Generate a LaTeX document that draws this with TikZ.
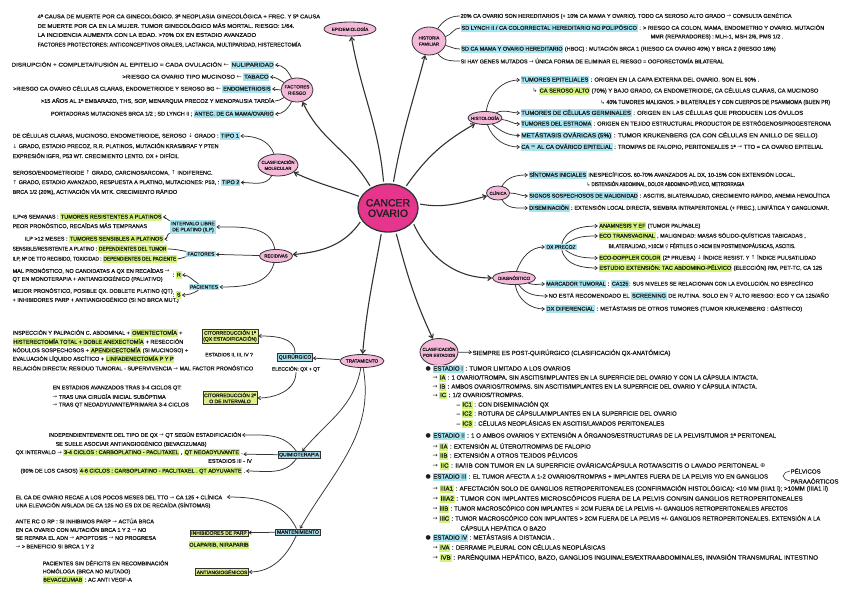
\documentclass[tikz,border=0pt]{standalone}
\usepackage{fontspec}
\usepackage{graphicx}
\setmainfont{Liberation Sans}[FakeBold=1]
\newfontfamily\sym{DejaVu Sans}
\usetikzlibrary{arrows.meta,shapes.geometric}
\definecolor{ink}{HTML}{1E1E1E}
\definecolor{lnk}{HTML}{333333}
\definecolor{pinkl}{HTML}{F4B8D8}
\definecolor{pinkc}{HTML}{E6358C}
\definecolor{hlb}{HTML}{A8E3F0}
\definecolor{hlg}{HTML}{D2F37C}
\definecolor{boxg}{HTML}{DCEF86}
\definecolor{boxb}{HTML}{A7DCEA}
\newcommand\fs{\fontsize{5.5}{6.5}\selectfont}
\newcommand\fsh{\fontsize{5.8}{6.8}\selectfont}
\newcommand\fse{\fontsize{6.1}{7}\selectfont}
\newcommand\HB[1]{{\fboxsep=0.7pt\colorbox{hlb}{\rule[-1.3pt]{0pt}{5.8pt}#1}}}
\newcommand\HG[1]{{\fboxsep=0.7pt\colorbox{hlg}{\rule[-1.3pt]{0pt}{5.8pt}#1}}}
\newcommand\sx[2]{\scalebox{#1}[1]{#2}}
\newcommand\myra{{\sym →}}
\newcommand\myla{{\sym ←}}
\newcommand\myhook{{\sym ↳}}
\newcommand\mybul{{\sym ●}}
\newcommand\myfem{{\sym ♀}}
\newcommand\myup{{\sym ↑}}
\newcommand\mydn{{\sym ↓}}
\newcommand\myplus{{\sym ⊕}}
\newcommand\myapx{{\sym ≈}}
\newcommand\myle{{\sym ≤}}
\newcommand\zb[1]{\makebox[0pt]{\shortstack{#1}}}
\begin{document}
\begin{tikzpicture}[x=1pt,y=-1pt,
 every node/.style={text=ink},
 tx/.style={anchor=west,inner sep=0.4pt,font=\fs},
 txr/.style={anchor=east,inner sep=0.4pt,font=\fs},
 txh/.style={anchor=west,inner sep=0.4pt,font=\fsh},
 txe/.style={anchor=west,inner sep=0.4pt,font=\fse},
 topic/.style={ellipse,draw=lnk,line width=0.8pt,fill=pinkl,inner sep=0pt,font=\fontsize{4.6}{5}\selectfont},
 bbox/.style={rectangle,draw=lnk,line width=0.6pt,fill=boxb,inner sep=1.3pt,font=\fontsize{5}{6}\selectfont},
 bfill/.style={rectangle,fill=hlb,inner sep=1.3pt,font=\fontsize{5}{6}\selectfont,align=center},
 gbox/.style={rectangle,draw=lnk,line width=0.6pt,fill=boxg,inner sep=1.3pt,font=\fontsize{5}{6}\selectfont,align=center},
 arr/.style={draw=lnk,line width=0.75pt,-{Straight Barb[length=2.4pt,width=3.4pt]}},
 plainln/.style={draw=lnk,line width=0.75pt},
 mainarr/.style={draw=lnk,line width=1.1pt,-{Straight Barb[length=3.5pt,width=5pt]},shorten <=2pt}]
\fill[white] (0,0) rectangle (848,599);
\useasboundingbox (0,0) rectangle (848,599);

% ---------- centre and topics
\node[ellipse,draw=lnk,line width=1.3pt,fill=pinkc,minimum width=60pt,minimum height=48pt,inner sep=0pt,font=\fontsize{10.5}{11.5}\selectfont] (C) at (388,208) {\zb{CANCER\\OVARIO}};
\node[topic,minimum width=52pt,minimum height=14pt] (epi) at (350,29) {\zb{EPIDEMIOLOGÍA}};
\node[topic,minimum width=34pt,minimum height=28pt,font=\fontsize{4.4}{5}\selectfont] (hf) at (429,41) {\zb{HISTORIA\\FAMILIAR}};
\node[topic,minimum width=32pt,minimum height=24pt] (fr) at (297,90) {\zb{FACTORES\\RIESGO}};
\node[topic,minimum width=34pt,minimum height=13pt] (hist) at (485,118) {\zb{HISTOLOGÍA}};
\node[topic,minimum width=40pt,minimum height=22pt,font=\fontsize{4.3}{5}\selectfont] (cm) at (278,165) {\zb{CLASIFICACIÓN\\MOLECULAR}};
\node[topic,minimum width=23pt,minimum height=14pt,font=\fontsize{4.3}{5}\selectfont] (cli) at (498,193) {\zb{CLÍNICA}};
\node[topic,minimum width=33pt,minimum height=13pt,font=\fontsize{4.4}{5}\selectfont] (rec) at (276,256) {\zb{RECIDIVAS}};
\node[topic,minimum width=43pt,minimum height=13pt] (dxg) at (514,278) {\zb{DIAGNÓSTICO}};
\node[topic,minimum width=44pt,minimum height=13pt] (trat) at (362,361) {\zb{TRATAMIENTO}};
\node[topic,minimum width=38pt,minimum height=27pt,font=\fontsize{4.3}{5}\selectfont] (ce) at (439,352) {\zb{CLASIFICACIÓN\\POR ESTADIOS}};

\draw[mainarr] (C.130) to[out=120,in=-65] (fr);
\draw[mainarr] (C.100) to[out=95,in=-80] (epi);
\draw[mainarr] (C.78) to[out=80,in=-105] (hf);
\draw[mainarr] (C.50) to[out=55,in=-150] (hist);
\draw[mainarr] (C.158) to[out=160,in=-25] (cm);
\draw[mainarr] (C.8) to[out=-10,in=195] (cli);
\draw[mainarr] (C.205) to[out=235,in=5] (rec);
\draw[mainarr] (C.-30) to[out=-65,in=180] (dxg);
\draw[mainarr] (C.-105) to[out=-100,in=85] (trat);
\draw[mainarr] (C.-72) to[out=-75,in=115] (ce);

% ---------- epidemiologia
\node[tx] (ep1) at (37,16) {\sx{1.06}{4ª CAUSA DE MUERTE POR CA GINECOLÓGICO. 3ª NEOPLASIA GINECOLÓGICA + FREC. Y 5ª CAUSA}};
\node[tx] (ep2) at (37,25.5) {\sx{1.08}{DE MUERTE POR CA EN LA MUJER. TUMOR GINECOLÓGICO MÁS MORTAL. RIESGO: 1/64.}};
\node[tx] (ep3) at (37,35) {\sx{1.1}{LA INCIDENCIA AUMENTA CON LA EDAD. >70\% DX EN ESTADIO AVANZADO}};
\node[tx] (ep4) at (37,44.5) {\sx{0.95}{FACTORES PROTECTORES: ANTICONCEPTIVOS ORALES, LACTANCIA, MULTIPARIDAD, HISTERECTOMÍA}};

% ---------- factores riesgo
\node[txr] (fr1) at (275,65) {\sx{1.15}{DISRUPCIÓN + COMPLETA/FUSIÓN AL EPITELIO = CADA OVULACIÓN \myla\ \HB{NULIPARIDAD}}};
\node[txr] (fr2) at (270,77) {\sx{1.1}{>RIESGO CA OVARIO TIPO MUCINOSO \myla\ \HB{TABACO}}};
\node[txr] (fr3) at (272,89) {\sx{1.03}{>RIESGO CA OVARIO CÉLULAS CLARAS, ENDOMETRIOIDE Y SEROSO BG \myla\ \HB{ENDOMETRIOSIS}}};
\node[txr] (fr4) at (275,101) {\sx{1.03}{>15 AÑOS AL 1ª EMBARAZO, THS, SOP, MENARQUIA PRECOZ Y MENOPAUSIA TARDÍA}};
\node[txr] (fr5) at (275,114) {PORTADORAS MUTACIONES BRCA 1/2 ; SD LYNCH II ; \HB{ANTEC. DE CA MAMA/OVARIO}};
\draw[arr] (fr) to[out=115,in=0] (fr1);
\draw[arr] (fr) to[out=150,in=0] (fr2);
\draw[arr] (fr) to[out=180,in=0] (fr3);
\draw[plainln] (fr) to[out=210,in=0] (fr4);
\draw[arr] (fr) to[out=245,in=0] (fr5);

% ---------- clasificacion molecular
\node[tx] (cm1) at (12,136) {\sx{1.04}{DE CÉLULAS CLARAS, MUCINOSO, ENDOMETRIOIDE, SEROSO \mydn\ GRADO : \HB{TIPO 1}}};
\node[tx] (cm2) at (12,146) {\mydn\ GRADO, ESTADIO PRECOZ, R.R. PLATINOS, MUTACIÓN KRAS/BRAF Y PTEN};
\node[tx] (cm3) at (12,156) {EXPRESIÓN IGFR, P53 WT. CRECIMIENTO LENTO. DX + DIFÍCIL};
\node[tx] (cm4) at (12,173) {SEROSO/ENDOMETRIOIDE \myup\ GRADO, CARCINOSARCOMA, \myup\ INDIFERENC.};
\node[tx] (cm5) at (12,182.5) {\myup\ GRADO, ESTADIO AVANZADO, RESPUESTA A PLATINO, MUTACIONES: P53, : \HB{TIPO 2}};
\node[tx] (cm6) at (12,192) {BRCA 1/2 (20\%), ACTIVACIÓN VÍA MTK. CRECIMIENTO RÁPIDO};
\draw[arr] (cm) to[out=110,in=0] (cm1);
\draw[arr] (cm) to[out=240,in=0] (cm5);

% ---------- recidivas
\node[bfill] (ilp) at (193,227) {INTERVALO LIBRE\\DE PLATINO (ILP)};
\node[bfill] (fac) at (201,254) {FACTORES};
\node[bfill] (pac) at (204,287) {PACIENTES};
\node[tx] (rc1) at (12,217) {ILP<6 SEMANAS : \HG{TUMORES RESISTENTES A PLATINOS}};
\node[tx] (rc2) at (12,226) {PEOR PRONÓSTICO, RECAÍDAS MÁS TEMPRANAS};
\node[tx] (rc3) at (24,239) {ILP >12 MESES : \HG{TUMORES SENSIBLES A PLATINOS}};
\node[tx] (rc4) at (12,249) {\sx{0.88}{SENSIBLE/RESISTENTE A PLATINO : \HG{DEPENDIENTES DEL TUMOR}}};
\node[tx] (rc5) at (12,259) {\sx{0.87}{ILP, Nº DE TTO RECIBIDO, TOXICIDAD : \HG{DEPENDIENTES DEL PACIENTE}}};
\node[tx] (rc6) at (12,271) {MAL PRONÓSTICO, NO CANDIDATAS A QX EN RECAÍDAS \myra};
\node[tx] (rc7) at (12,279) {QT EN MONOTERAPIA + ANTIANGIOGÉNICO (PALIATIVO)};
\node[tx] (rcR) at (172,275) {: \HG{R}};
\node[tx] (rc8) at (12,291) {MEJOR PRONÓSTICO, POSIBLE QX. DOBLETE PLATINO (QT)};
\node[tx] (rc9) at (12,300) {+ INHIBIDORES PARP + ANTIANGIOGÉNICO (SI NO BRCA MUT.)};
\node[tx] (rcS) at (172,295) {: \HG{S}};
\draw[arr] (rec) to[out=100,in=0] (ilp);
\draw[arr] (rec) -- (fac);
\draw[arr] (rec) to[out=255,in=0] (pac);
\draw[arr] (ilp) to[out=165,in=0] (rc1);
\draw[arr] (ilp) to[out=195,in=0] (rc3);
\draw[plainln] (fac) to[out=170,in=0] (rc4);
\draw[plainln] (fac) to[out=190,in=0] (rc5);
\draw[arr] (pac) to[out=150,in=0] (rcR);
\draw[arr] (pac) to[out=210,in=0] (rcS);

% ---------- tratamiento
\node[bbox] (quir) at (295,357) {QUIRÚRGICO};
\node[tx,anchor=center,font=\fontsize{5}{6}\selectfont] (elec) at (296,369) {ELECCIÓN: QX + QT};
\node[gbox] (c1) at (230,336) {CITORREDUCCIÓN 1ª\\(QX ESTADIFICACIÓN)};
\node[tx,anchor=center,font=\fontsize{5}{6}\selectfont] (c1e) at (229,355) {ESTADIOS II, III, IV ?};
\node[gbox] (c2) at (230,398) {CITORREDUCCIÓN 2ª\\O DE INTERVALO};
\node[tx] (tq1) at (12,333) {INSPECCIÓN Y PALPACIÓN C. ABDOMINAL + \HG{OMENTECTOMÍA} +};
\node[tx] (tq2) at (12,342) {\HG{HISTERECTOMÍA TOTAL + DOBLE ANEXECTOMÍA} + RESECCIÓN};
\node[tx] (tq3) at (12,350.5) {NÓDULOS SOSPECHOSOS + \HG{APENDICECTOMÍA} (SI MUCINOSO) +};
\node[tx] (tq4) at (12,359) {EVALUACIÓN LÍQUIDO ASCÍTICO + \HG{LINFADENECTOMÍA P Y P}};
\node[tx] (tq5) at (12,368) {RELACIÓN DIRECTA: RESIDUO TUMORAL - SUPERVIVENCIA \myra\ MAL FACTOR PRONÓSTICO};
\node[tx] (tq6) at (52,388) {EN ESTADIOS AVANZADOS TRAS 3-4 CICLOS QT:};
\node[tx] (tq7) at (52,396.5) {\myra\ TRAS UNA CIRUGÍA INICIAL SUBÓPTIMA};
\node[tx] (tq8) at (52,405) {\myra\ TRAS QT NEOADYUVANTE/PRIMARIA 3-4 CICLOS};
\draw[arr] (trat) -- (quir);
\draw[arr] (quir.north) to[out=90,in=0] (c1);
\draw[arr] (elec.south) to[out=-90,in=0] (c2);

\node[bbox] (qt) at (299,455) {QUIMIOTERAPIA};
\node[tx] (qt1) at (48,435) {INDEPENDIENTEMENTE DEL TIPO DE QX \myra\ QT SEGÚN ESTADIFICACIÓN};
\node[tx] (qt2) at (55,444) {SE SUELE ASOCIAR ANTIANGIOGÉNICO (BEVACIZUMAB)};
\node[tx] (qt3) at (15,452.5) {QX INTERVALO \myra\ \HG{3-4 CICLOS : CARBOPLATINO - PACLITAXEL} , \HG{QT NEOADYUVANTE} .};
\node[tx,anchor=center] (qt3b) at (230,461) {ESTADIOS III - IV};
\node[tx] (qt4) at (20,471) {(90\% DE LOS CASOS) \HG{4-6 CICLOS : CARBOPLATINO - PACLITAXEL . QT ADYUVANTE} .};
\draw[arr] (trat) to[out=-100,in=50] (qt);
\draw[arr] (qt) to[out=125,in=0] (qt1);
\draw[arr] (qt) -- (qt3);
\draw[arr] (qt) to[out=235,in=0] (qt4);

\node[bbox] (mt) at (298,532) {MANTENIMIENTO};
\node[tx] (mt1) at (15,497) {EL CA DE OVARIO RECAE A LOS POCOS MESES DEL TTO \myra\ CA 125 + CLÍNICA};
\node[tx] (mt2) at (15,505.5) {UNA ELEVACIÓN AISLADA DE CA 125 NO ES DX DE RECAÍDA (SÍNTOMAS)};
\node[tx] (mt3) at (15,521) {ANTE RC O RP : SI INHIBIMOS PARP \myra\ ACTÚA BRCA};
\node[tx] (mt4) at (15,529.5) {EN CA OVARIO CON MUTACIÓN BRCA 1 Y 2 \myra\ NO};
\node[tx] (mt5) at (15,538) {SE REPARA EL ADN \myra\ APOPTOSIS \myra\ NO PROGRESA};
\node[tx] (mt6) at (15,546.5) {\myra\ > BENEFICIO SI BRCA 1 Y 2};
\node[gbox] (ip) at (219,533) {INHIBIDORES DE PARP};
\node[tx,anchor=center] (ol) at (219,545) {\HG{OLAPARIB, NIRAPARIB}};
\node[tx] (mt7) at (42,563) {PACIENTES SIN DÉFICITS EN RECOMBINACIÓN};
\node[tx] (mt8) at (42,571.5) {HOMÓLOGA (BRCA NO MUTADO)};
\node[tx] (mt9) at (42,580) {\HG{BEVACIZUMAB} : AC ANTI VEGF-A};
\node[gbox] (aa) at (222,572) {ANTIANGIOGÉNICOS};
\draw[arr] (trat) to[out=-80,in=60] (mt);
\draw[arr,shorten >=4pt] (mt) to[out=115,in=0] (mt1);
\draw[arr] (mt) -- (ip);
\draw[arr] (mt) to[out=245,in=0] (aa);

% ---------- historia familiar
\node[tx] (hf1) at (460,16) {20\% CA OVARIO SON HEREDITARIOS (+ 10\% CA MAMA Y OVARIO). TODO CA SEROSO ALTO GRADO \myra\ CONSULTA GENÉTICA};
\node[tx] (hf2) at (460,28) {\sx{1.03}{\HB{SD LYNCH II / CA COLORRECTAL HEREDITARIO NO POLIPÓSICO} : > RIESGO CA COLON, MAMA, ENDOMETRIO Y OVARIO. MUTACIÓN}};
\node[tx] (hf3) at (650,37) {MMR (REPARADORES) : MLH-1, MSH 2/6, PMS 1/2 .};
\node[tx] (hf4) at (460,49) {\HB{SD CA MAMA Y OVARIO HEREDITARIO} (HBOC) : MUTACIÓN BRCA 1 (RIESGO CA OVARIO 40\%) Y BRCA 2 (RIESGO 18\%)};
\node[tx] (hf5) at (460,61) {SI HAY GENES MUTADOS \myra\ ÚNICA FORMA DE ELIMINAR EL RIESGO = OOFORECTOMÍA BILATERAL};
\draw[plainln] (hf) to[out=55,in=180] (hf1);
\draw[plainln] (hf) to[out=15,in=180] (hf2);
\draw[plainln] (hf) to[out=-15,in=180] (hf4);
\draw[plainln] (hf) to[out=-55,in=180] (hf5);

% ---------- histologia
\node[txh] (hi1) at (520,80) {\HB{TUMORES EPITELIALES} : ORIGEN EN LA CAPA EXTERNA DEL OVARIO. SON EL 90\% .};
\node[txh] (hi2) at (532,91) {\sx{0.98}{\myhook\ \HG{CA SEROSO ALTO} (70\%) Y BAJO GRADO, CA ENDOMETRIOIDE, CA CÉLULAS CLARAS, CA MUCINOSO}};
\node[txh] (hi3) at (600,102.5) {\sx{0.9}{\myhook\ 40\% TUMORES MALIGNOS. > BILATERALES Y CON CUERPOS DE PSAMMOMA (BUEN PR)}};
\node[txh] (hi4) at (520,113) {\sx{1.03}{\HB{TUMORES DE CÉLULAS GERMINALES} : ORIGEN EN LAS CÉLULAS QUE PRODUCEN LOS ÓVULOS}};
\node[txh] (hi5) at (520,124) {\sx{0.97}{\HB{TUMORES DEL ESTROMA} : ORIGEN EN TEJIDO ESTRUCTURAL PRODUCTOR DE ESTRÓGENOS/PROGESTERONA}};
\node[txh] (hi6) at (520,135.5) {\sx{1.1}{\HB{METÁSTASIS OVÁRICAS (5\%)} : TUMOR KRUKENBERG (CA CON CÉLULAS EN ANILLO DE SELLO)}};
\node[txh] (hi7) at (520,147) {\sx{0.99}{\HB{CA \myapx\ AL CA OVÁRICO EPITELIAL} : TROMPAS DE FALOPIO, PERITONEALES 1ª \myra\ TTO = CA OVARIO EPITELIAL}};
\draw[arr] (hist) to[out=80,in=180] (hi1);
\draw[arr] (hist) to[out=25,in=180] (hi4);
\draw[arr] (hist) to[out=-5,in=180] (hi5);
\draw[arr] (hist) to[out=-40,in=180] (hi6);
\draw[arr] (hist) to[out=-70,in=180] (hi7);

% ---------- clinica
\node[tx] (cl1) at (528,175) {\HB{SÍNTOMAS INICIALES} INESPECÍFICOS. 60-70\% AVANZADOS AL DX, 10-15\% CON EXTENSIÓN LOCAL.};
\node[tx] (cl2) at (586,184) {\sx{0.8}{\myhook\ DISTENSIÓN ABDOMINAL, DOLOR ABDOMINO-PÉLVICO, METRORRAGIA}};
\node[tx] (cl3) at (528,196) {\sx{0.98}{\HB{SIGNOS SOSPECHOSOS DE MALIGNIDAD} : ASCITIS, BILATERALIDAD, CRECIMIENTO RÁPIDO, ANEMIA HEMOLÍTICA}};
\node[tx] (cl4) at (528,208) {\sx{0.98}{\HB{DISEMINACIÓN} : EXTENSIÓN LOCAL DIRECTA, SIEMBRA INTRAPERITONEAL (+ FREC.), LINFÁTICA Y GANGLIONAR.}};
\draw[arr] (cli) to[out=60,in=180] (cl1);
\draw[arr] (cli) to[out=0,in=180] (cl3);
\draw[arr] (cli) to[out=-60,in=180] (cl4);

% ---------- diagnostico
\node[bfill] (dxp) at (561,247) {DX PRECOZ};
\node[tx] (dx1) at (598,226) {\HG{ANAMNESIS Y EF} (TUMOR PALPABLE)};
\node[tx] (dx2) at (598,236) {\HG{ECO TRANSVAGINAL} , MALIGNIDAD: MASAS SÓLIDO-QUÍSTICAS TABICADAS ,};
\node[tx] (dx3) at (608,246) {\sx{0.87}{BILATERALIDAD, >10CM \myfem\ FÉRTILES O >5CM EN POSTMENOPÁUSICAS, ASCITIS.}};
\node[tx] (dx4) at (598,258) {\HG{ECO-DOPPLER COLOR} (2ª PRUEBA) \mydn\ ÍNDICE RESIST. Y \myup\ ÍNDICE PULSATILIDAD};
\node[tx] (dx5) at (598,268) {\sx{1.03}{\HG{ESTUDIO EXTENSIÓN: TAC ABDOMINO-PÉLVICO} (ELECCIÓN) RM, PET-TC, CA 125}};
\node[tx] (dx6) at (545,284) {\sx{0.98}{\HB{MARCADOR TUMORAL} : \HB{CA125}: SUS NIVELES SE RELACIONAN CON LA EVOLUCIÓN. NO ESPECÍFICO}};
\node[tx] (dx7) at (548,296) {\sx{1.04}{NO ESTÁ RECOMENDADO EL \HB{SCREENING} DE RUTINA. SOLO EN \myfem\ ALTO RIESGO: ECO Y CA 125/AÑO}};
\node[tx] (dx8) at (545,309) {\sx{1.05}{\HB{DX DIFERENCIAL} : METÁSTASIS DE OTROS TUMORES (TUMOR KRUKENBERG : GÁSTRICO)}};
\draw[arr] (dxg) to[out=70,in=180] (dxp);
\draw[arr] (dxp) to[out=75,in=180] (dx1);
\draw[arr] (dxp) to[out=35,in=180] (dx2);
\draw[arr] (dxp) to[out=-35,in=180] (dx4);
\draw[arr] (dxp) to[out=-75,in=180] (dx5);
\draw[arr] (dxg) to[out=-20,in=180] (dx6);
\draw[arr] (dxg) to[out=-55,in=180] (dx7);
\draw[arr] (dxg) to[out=-80,in=180] (dx8);

% ---------- clasificacion por estadios
\node[txe] (ce0) at (472,353) {SIEMPRE ES POST-QUIRÚRGICO (CLASIFICACIÓN QX-ANATÓMICA)};
\draw[arr] (ce) -- (ce0);
\node[txe] (ce1) at (425,369) {\mybul\ \HB{ESTADIO I} : TUMOR LIMITADO A LOS OVARIOS};
\node[txe] (ce2) at (432,378) {\sx{0.97}{\myra\ \HG{IA} : 1 OVARIO/TROMPA. SIN ASCITIS/IMPLANTES EN LA SUPERFICIE DEL OVARIO Y CON LA CÁPSULA INTACTA.}};
\node[txe] (ce3) at (432,387) {\sx{0.96}{\myra\ \HG{IB} : AMBOS OVARIOS/TROMPAS. SIN ASCITIS/IMPLANTES EN LA SUPERFICIE DEL OVARIO Y CÁPSULA INTACTA.}};
\node[txe] (ce4) at (432,395.5) {\myra\ \HG{IC} : 1/2 OVARIOS/TROMPAS.};
\node[txe] (ce5) at (456,405) {– \HG{IC1} : CON DISEMINACIÓN QX};
\node[txe] (ce6) at (456,414) {– \HG{IC2} : ROTURA DE CÁPSULA/IMPLANTES EN LA SUPERFICIE DEL OVARIO};
\node[txe] (ce7) at (456,424) {– \HG{IC3} : CÉLULAS NEOPLÁSICAS EN ASCITIS/LAVADOS PERITONEALES};
\node[txe] (ce8) at (425,436) {\mybul\ \HB{ESTADIO II} : 1 O AMBOS OVARIOS Y EXTENSIÓN A ÓRGANOS/ESTRUCTURAS DE LA PELVIS/TUMOR 1ª PERITONEAL};
\node[txe] (ce9) at (432,447) {\myra\ \HG{IIA} : EXTENSIÓN AL ÚTERO/TROMPAS DE FALOPIO};
\node[txe] (ce10) at (432,456) {\myra\ \HG{IIB} : EXTENSIÓN A OTROS TEJIDOS PÉLVICOS};
\node[txe] (ce11) at (432,466) {\sx{1.05}{\myra\ \HG{IIC} : IIA/IIB CON TUMOR EN LA SUPERFICIE OVÁRICA/CÁPSULA ROTA/ASCITIS O LAVADO PERITONEAL \myplus}};
\node[txe] (ce12) at (425,477) {\mybul\ \HB{ESTADIO III} : EL TUMOR AFECTA A 1-2 OVARIOS/TROMPAS + IMPLANTES FUERA DE LA PELVIS Y/O EN GANGLIOS};
\node[txe] (pel) at (790,471) {PÉLVICOS};
\node[txe] (para) at (790,481) {PARAAÓRTICOS};
\coordinate (brk) at (783,476);
\draw[plainln,line width=0.6pt] (pel.west) to[out=190,in=80] (brk) to[out=-80,in=170] (para.west);
\node[txe] (ce13) at (432,489) {\sx{1.02}{\myra\ \HG{IIIA1} : AFECTACIÓN SOLO DE GANGLIOS RETROPERITONEALES (CONFIRMACIÓN HISTOLÓGICA): <10 MM (IIIA1 i); >10MM (IIIA1 ii)}};
\node[txe] (ce14) at (432,499) {\sx{1.06}{\myra\ \HG{IIIA2} : TUMOR CON IMPLANTES MICROSCÓPICOS FUERA DE LA PELVIS CON/SIN GANGLIOS RETROPERITONEALES}};
\node[txe] (ce15) at (432,509) {\sx{0.94}{\myra\ \HG{IIIB} : TUMOR MACROSCÓPICO CON IMPLANTES \myle\ 2CM FUERA DE LA PELVIS +/- GANGLIOS RETROPERITONEALES AFECTOS}};
\node[txe] (ce16) at (432,519) {\sx{0.97}{\myra\ \HG{IIIC} : TUMOR MACROSCÓPICO CON IMPLANTES > 2CM FUERA DE LA PELVIS +/- GANGLIOS RETROPERITONEALES. EXTENSIÓN A LA}};
\node[txe] (ce17) at (460,528) {CÁPSULA HEPÁTICA O BAZO};
\node[txe] (ce18) at (425,538) {\mybul\ \HB{ESTADIO IV} : METÁSTASIS A DISTANCIA .};
\node[txe] (ce19) at (432,548) {\myra\ \HG{IVA} : DERRAME PLEURAL CON CÉLULAS NEOPLÁSICAS};
\node[txe] (ce20) at (432,558) {\sx{1.05}{\myra\ \HG{IVB} : PARÉNQUIMA HEPÁTICO, BAZO, GANGLIOS INGUINALES/EXTRAABDOMINALES, INVASIÓN TRANSMURAL INTESTINO}};
\end{tikzpicture}
\end{document}
